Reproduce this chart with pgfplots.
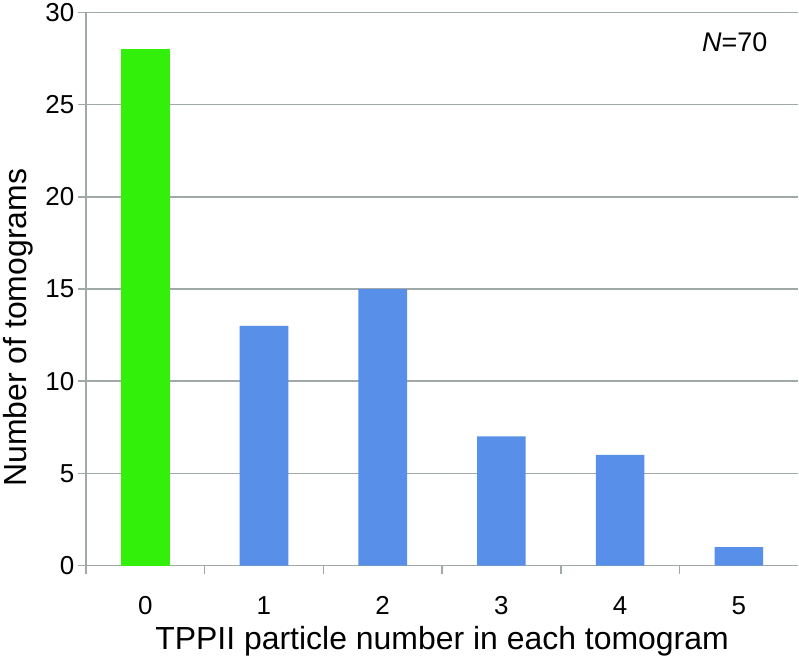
\documentclass[border=0pt]{standalone}
\usepackage{pgfplots}
\pgfplotsset{compat=1.18}
\usepackage{fontspec}
\setmainfont{Liberation Sans}
\definecolor{bargreen}{RGB}{51,240,10}
\definecolor{barblue}{RGB}{88,143,232}
\definecolor{gridgray}{RGB}{160,168,168}

\begin{document}
\begin{tikzpicture}
\begin{axis}[
    scale only axis,
    width=711bp,
    height=552bp,
    xmin=-0.5, xmax=5.5,
    ymin=0, ymax=30,
    axis x line*=bottom,
    axis y line*=left,
    axis line style={gridgray, line width=1.6pt, -},
    xtick={0,1,2,3,4,5},
    minor xtick={-0.5,0.5,1.5,2.5,3.5,4.5},
    ytick={0,5,10,15,20,25,30},
    major x tick style={draw=none},
    minor x tick style={gridgray, line width=1.6pt},
    y tick style={gridgray, line width=1.6pt},
    tick align=outside,
    major tick length=8bp,
    minor tick length=8bp,
    ymajorgrids,
    major grid style={gridgray, line width=1.6pt},
    /pgf/number format/assume math mode=true,
    tick label style={font=\fontsize{26}{30}\selectfont, black},
    xlabel={TPPII particle number in each tomogram},
    ylabel={Number of tomograms},
    xlabel style={font=\fontsize{32}{36}\selectfont, black,
        at={(axis description cs:0.5,-0.1377)}, anchor=center},
    ylabel style={font=\fontsize{32}{36}\selectfont, black,
        at={(axis description cs:-0.095,0.43)}, anchor=center},
    xticklabel style={anchor=center, yshift=-32bp},
    clip=false
]
\addplot[ybar, bar width=0.41, bar shift=0pt, fill=bargreen, draw=none]
    coordinates {(0,28)};
\addplot[ybar, bar width=0.41, bar shift=0pt, fill=barblue, draw=none]
    coordinates {(1,13) (2,15) (3,7) (4,6) (5,1)};
\node[anchor=east, font=\fontsize{27}{30}\selectfont] at (axis cs:5.27,28.37) {\textit{N}=70};
\end{axis}
\end{tikzpicture}
\end{document}
